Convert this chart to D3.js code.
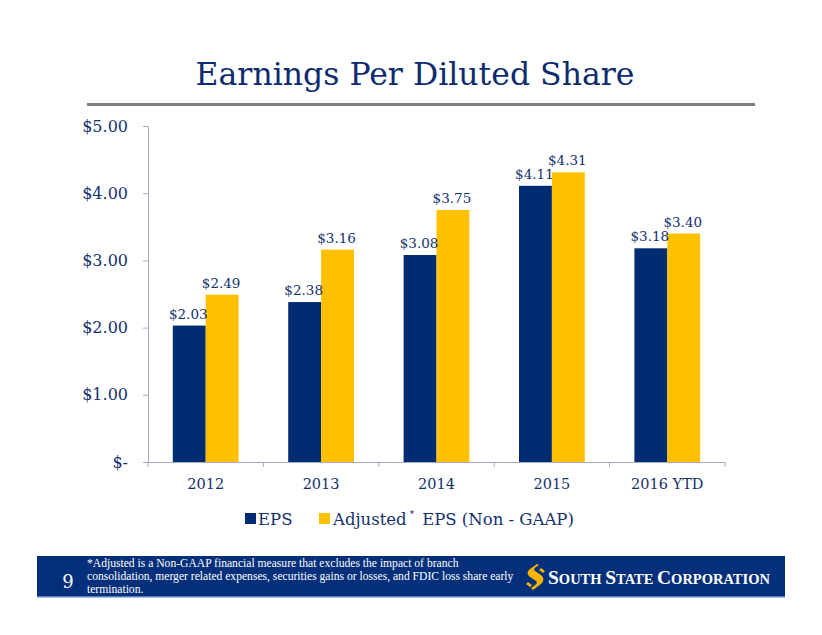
<!DOCTYPE html>
<html>
<head>
<meta charset="utf-8">
<script src="https://cdn.jsdelivr.net/npm/d3@7"></script>
<style>
  body { margin: 0; background: #fff; }
  svg { display: block; }
</style>
</head>
<body>
<svg id="chart"></svg>
<script>
const categories = ["2012", "2013", "2014", "2015", "2016 YTD"];
const seriesNames = ["EPS", "Adjusted"];
const eps = [2.03, 2.38, 3.08, 4.11, 3.18];
const adjusted = [2.49, 3.16, 3.75, 4.31, 3.40];
const yTicks = [0, 1, 2, 3, 4, 5];
const footnote = [
    "*Adjusted is a Non-GAAP financial measure that excludes the impact of branch",
    "consolidation, merger related expenses, securities gains or losses, and FDIC loss share early",
    "termination."
];

const width = 822, height = 635;
const navy = "#002d72", gold = "#ffc000", textBlue = "#14306e";
const serif = "'DejaVu Serif', Georgia, serif";

const svg = d3.select("#chart").attr("width", width).attr("height", height);
svg.append("rect").attr("width", width).attr("height", height).attr("fill", "#fff");

// Title
svg.append("text")
    .attr("x", 415).attr("y", 85)
    .attr("text-anchor", "middle")
    .attr("font-family", serif)
    .attr("font-size", 31.5)
    .attr("fill", "#0d2c6f")
    .text("Earnings Per Diluted Share");

svg.append("rect")
    .attr("x", 87).attr("y", 103).attr("width", 668).attr("height", 3)
    .attr("fill", "#7f7f7f");

// Scales
const x = d3.scaleBand().domain(categories).range([148, 725]);
const bw = x.bandwidth();
const xs = d3.scaleBand().domain(seriesNames).range([bw * 0.215, bw * 0.785]);
const y = d3.scaleLinear().domain([0, 5]).range([462, 126]);

const rows = categories.map((c, i) => ({ cat: c, values: [
    { key: "EPS", v: eps[i] }, { key: "Adjusted", v: adjusted[i] }] }));
const color = d3.scaleOrdinal().domain(seriesNames).range([navy, gold]);

// Axes
const yAxis = svg.append("g")
    .attr("transform", "translate(148,0)")
    .call(d3.axisLeft(y).tickValues(yTicks).tickSize(5).tickPadding(15)
        .tickFormat(d => d === 0 ? "$-" : "$" + d.toFixed(2)));
yAxis.select(".domain").attr("stroke", "#a6acc4");
yAxis.selectAll(".tick line").attr("stroke", "#a6acc4");
yAxis.selectAll(".tick text")
    .attr("font-family", serif).attr("font-size", 16).attr("fill", textBlue);

const xAxis = svg.append("g")
    .attr("transform", "translate(0,462)")
    .call(d3.axisBottom(x).tickSize(0).tickPadding(17));
xAxis.select(".domain").attr("stroke", "#a6acc4");
xAxis.selectAll(".tick text")
    .attr("font-family", serif).attr("font-size", 14.5).attr("fill", textBlue);
// category boundary ticks
const bounds = categories.map(c => x(c)).concat([x(categories[categories.length - 1]) + bw]);
svg.append("g").selectAll("line").data(bounds).enter().append("line")
    .attr("x1", d => d).attr("x2", d => d)
    .attr("y1", 462).attr("y2", 467)
    .attr("stroke", "#a6acc4");

// Bars
const groups = svg.append("g").selectAll("g").data(rows).enter().append("g")
    .attr("transform", d => `translate(${x(d.cat)},0)`);

groups.selectAll("rect").data(d => d.values).enter().append("rect")
    .attr("x", d => xs(d.key))
    .attr("width", xs.bandwidth())
    .attr("y", d => y(d.v))
    .attr("height", d => y(0) - y(d.v))
    .attr("fill", d => color(d.key));

groups.selectAll("text.lbl").data(d => d.values).enter().append("text")
    .attr("class", "lbl")
    .attr("x", d => xs(d.key) + xs.bandwidth() / 2 - 1)
    .attr("y", d => y(d.v) - 7)
    .attr("text-anchor", "middle")
    .attr("font-family", serif).attr("font-size", 13.5)
    .attr("fill", textBlue)
    .text(d => "$" + d.v.toFixed(2));

// Legend
const legend = svg.append("g").attr("font-family", serif).attr("font-size", 16.5).attr("fill", textBlue);
legend.append("rect").attr("x", 245).attr("y", 513).attr("width", 11).attr("height", 11).attr("fill", navy);
legend.append("text").attr("x", 258).attr("y", 525).text("EPS");
legend.append("rect").attr("x", 319).attr("y", 513).attr("width", 11).attr("height", 11).attr("fill", gold);
const lt = legend.append("text").attr("x", 333).attr("y", 525);
lt.append("tspan").text("Adjusted");
lt.append("tspan").attr("font-size", 9).attr("dy", -8).attr("dx", 3).text("*");
lt.append("tspan").attr("dy", 8).attr("dx", 8).text("EPS (Non - GAAP)");

// Footer
svg.append("rect").attr("x", 37).attr("y", 556).attr("width", 748).attr("height", 41).attr("fill", "#042f7b");
svg.append("rect").attr("x", 37).attr("y", 596).attr("width", 748).attr("height", 1.5).attr("fill", "#5b7fc0");
svg.append("text").attr("x", 68).attr("y", 588).attr("text-anchor", "middle")
    .attr("font-family", serif).attr("font-size", 18).attr("fill", "#fff").text("9");
svg.append("g").selectAll("text").data(footnote).enter().append("text")
    .attr("x", 87).attr("y", (d, i) => 567 + i * 13)
    .attr("font-family", "'Liberation Serif', serif").attr("font-size", 11.6)
    .attr("fill", "#fff").text(d => d);

// Logo
const logo = svg.append("g");
logo.append("path")
    .attr("d", "M537,564 L530,569 Q525,573 530,577 L536,581 Q538,583 535,585 L531,588 L533,590 L541,584 Q546,579 541,575 L535,571 Q533,569 536,567 L539,565 Z")
    .attr("fill", "#f5b400");
logo.append("path")
    .attr("d", "M541,568 L545,571 L543,573 L539,570 Z M528,582 L532,585 L530,587 L526,584 Z")
    .attr("fill", "#f5b400");
const lg = logo.append("text").attr("x", 548).attr("y", 584)
    .attr("font-family", "'Liberation Serif', serif").attr("font-weight", "bold").attr("fill", "#fff")
    .attr("font-size", 19.5);
lg.append("tspan").text("S");
lg.append("tspan").attr("font-size", 14.5).text("OUTH ");
lg.append("tspan").text("S");
lg.append("tspan").attr("font-size", 14.5).text("TATE ");
lg.append("tspan").text("C");
lg.append("tspan").attr("font-size", 14.5).text("ORPORATION");
</script>
</body>
</html>
